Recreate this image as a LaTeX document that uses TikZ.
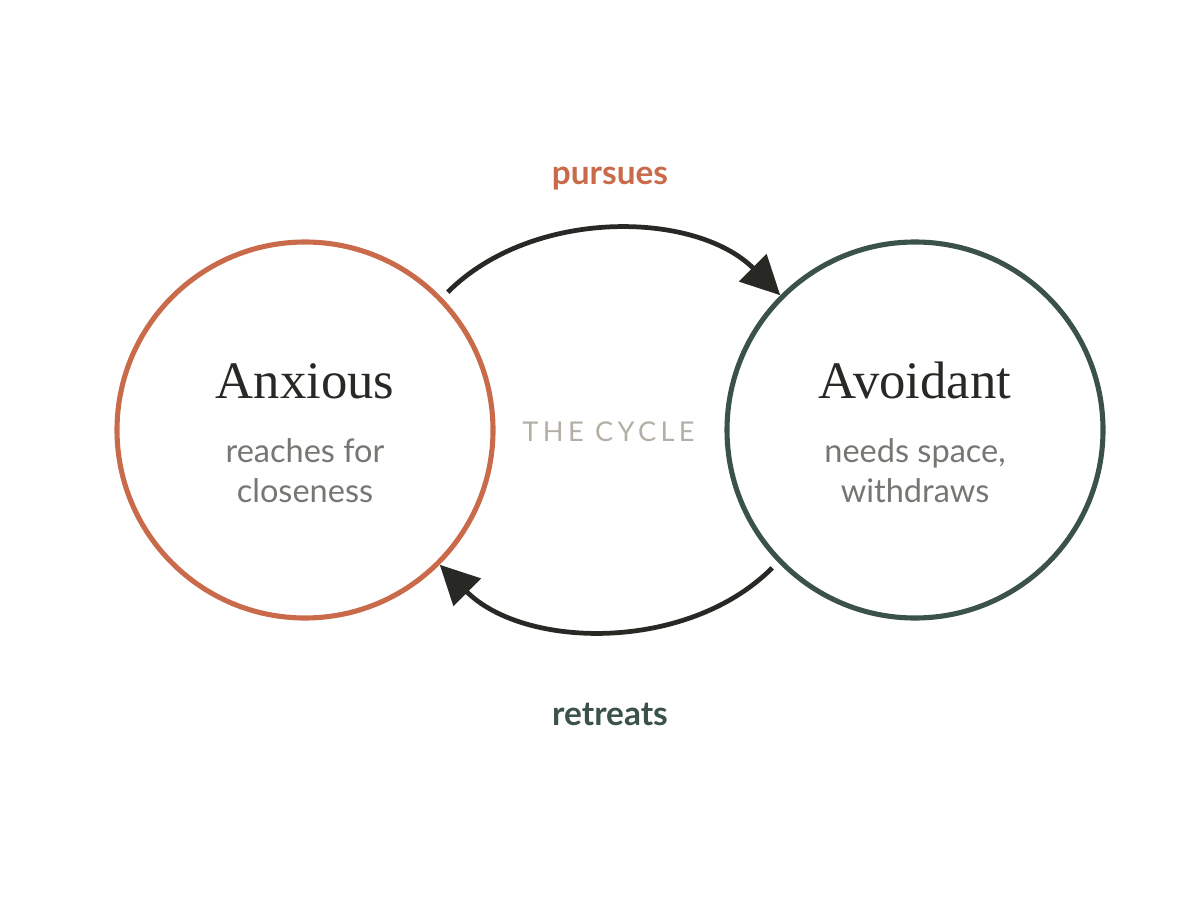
\documentclass[tikz,border=0pt]{standalone}
\usepackage{fontspec}
\setmainfont{Liberation Serif}
\setsansfont{Lato}
\usepackage{xcolor}
\definecolor{cyOrange}{RGB}{201,107, 74}
\definecolor{cyGreen} {RGB}{ 58, 82, 71}
\definecolor{cyInk}   {RGB}{ 40, 40, 36}
\definecolor{cyGrey}  {RGB}{120,118,114}
\definecolor{cyPale}  {RGB}{180,175,165}
\usepackage{tikz}
\usetikzlibrary{
  arrows.meta,
  positioning,
}

\begin{document}
\begin{tikzpicture}[
  >={Triangle[length=0.78cm,width=0.76cm]},
  ring/.style={circle, line width=2.9pt, minimum size=7.52cm, inner sep=0pt},
  cyc/.style={->, line width=2.7pt, draw=cyInk, looseness=0.92},
  title/.style={font=\rmfamily\fontsize{30}{34}\selectfont, text=cyInk, anchor=base},
  sub/.style={font=\sffamily\fontsize{18.5}{22.7}\selectfont, text=cyGrey, align=center, anchor=base},
  verb/.style={font=\sffamily\bfseries\fontsize{19}{22}\selectfont, anchor=base},
]
  \useasboundingbox (0,0) rectangle (24,18);

  % The two partners
  \node[ring, draw=cyOrange] (anx) at (6.1,9.4) {};
  \node[ring, draw=cyGreen]  (avo) at (18.3,9.4) {};

  \node[title] (anxT) at (6.1,10.04) {Anxious};
  \node[sub]   (anxS) at (6.1,7.96) {reaches for\\closeness};
  \node[title] (avoT) at (18.3,10.04) {Avoidant};
  \node[sub]   (avoS) at (18.3,7.96) {needs space,\\withdraws};

  % Centre label
  \node[font=\sffamily\fontsize{15.5}{18}\selectfont\addfontfeature{LetterSpace=16},
    text=cyPale, anchor=base] (cycle) at (12.17,9.18) {THE CYCLE};

  % Loop arrows
  \coordinate (topStart) at ([shift={(44:3.97)}]anx.center);
  \coordinate (botStart) at ([shift={(224:3.97)}]avo.center);
  \draw[cyc] (topStart) to[out=45, in=135] (avo.135);
  \draw[cyc] (botStart) to[out=225, in=-45] (anx.-45);

  \node[verb, text=cyOrange] (pursues)  at (12.2,14.3) {pursues};
  \node[verb, text=cyGreen]  (retreats) at (12.2,3.5)  {retreats};
\end{tikzpicture}
\end{document}
